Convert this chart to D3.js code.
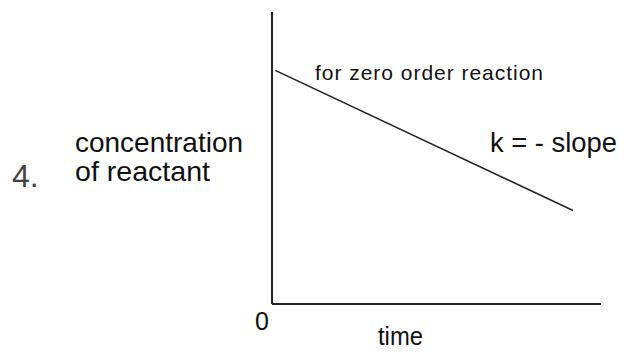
<!DOCTYPE html>
<html>
<head>
<meta charset="utf-8">
<script src="https://cdn.jsdelivr.net/npm/d3@7"></script>
<style>
  html, body { margin: 0; padding: 0; background: #fff; }
  svg { display: block; }
  text { font-family: Arial, "Liberation Sans", sans-serif; fill: #111; }
</style>
</head>
<body>
<svg id="chart" width="628" height="358"></svg>
<script>
// Zero-order reaction: concentration falls linearly with time
const times = [0.1, 9.15];
const concentrations = [8.0, 3.2];
const xTickLabels = ["0"];
const xLabel = "time";
const yLabelLines = ["concentration", "of reactant"];
const questionNumber = "4.";
const curveNote = "for zero order reaction";
const slopeNote = "k = - slope";

const svg = d3.select("#chart");
const x = d3.scaleLinear().domain([0, 10]).range([272, 601]);
const y = d3.scaleLinear().domain([0, 10]).range([304, 12]);

// axes: plain lines, no tick marks
svg.append("line")
  .attr("x1", x(0)).attr("x2", x(0))
  .attr("y1", y(0)).attr("y2", y(10))
  .attr("stroke", "#222").attr("stroke-width", 2);
svg.append("line")
  .attr("x1", x(0)).attr("x2", x(10))
  .attr("y1", y(0)).attr("y2", y(0))
  .attr("stroke", "#222").attr("stroke-width", 2);

// concentration line
const pts = times.map((t, i) => [t, concentrations[i]]);
svg.append("path")
  .datum(pts)
  .attr("d", d3.line().x(d => x(d[0])).y(d => y(d[1])))
  .attr("fill", "none")
  .attr("stroke", "#222")
  .attr("stroke-width", 1.6);

// origin label
svg.append("text")
  .attr("x", x(0) - 10).attr("y", 330)
  .attr("text-anchor", "middle")
  .attr("font-size", 25)
  .text(xTickLabels[0]);

// axis titles
svg.append("text")
  .attr("x", 378).attr("y", 345)
  .attr("font-size", 25)
  .attr("textLength", 45).attr("lengthAdjust", "spacingAndGlyphs")
  .text(xLabel);

svg.append("text")
  .attr("x", 75).attr("y", 152)
  .attr("font-size", 28)
  .attr("textLength", 168).attr("lengthAdjust", "spacingAndGlyphs")
  .text(yLabelLines[0]);
svg.append("text")
  .attr("x", 75).attr("y", 181)
  .attr("font-size", 28)
  .attr("textLength", 135).attr("lengthAdjust", "spacingAndGlyphs")
  .text(yLabelLines[1]);

// question number
svg.append("text")
  .attr("x", 12).attr("y", 187)
  .attr("font-family", "'Liberation Serif', 'Times New Roman', serif")
  .attr("font-size", 32)
  .style("fill", "#444")
  .text(questionNumber);

// annotations
svg.append("text")
  .attr("x", 315).attr("y", 80)
  .attr("font-size", 21)
  .attr("textLength", 228).attr("lengthAdjust", "spacing")
  .text(curveNote);
svg.append("text")
  .attr("x", 490).attr("y", 152)
  .attr("font-size", 28)
  .attr("textLength", 127).attr("lengthAdjust", "spacingAndGlyphs")
  .text(slopeNote);
</script>
</body>
</html>
